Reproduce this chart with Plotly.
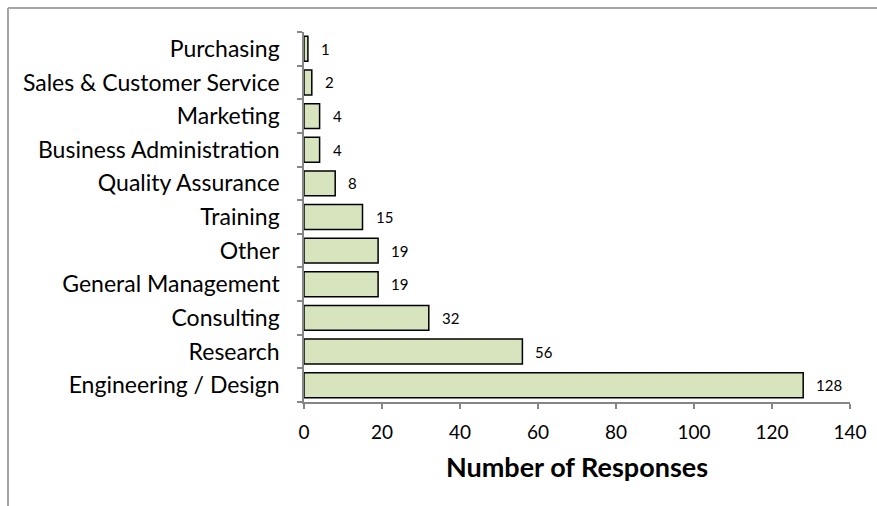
import plotly.graph_objects as go

# Survey responses by job function
categories = [
    "Engineering / Design", "Research", "Consulting", "General Management",
    "Other", "Training", "Quality Assurance", "Business Administration",
    "Marketing", "Sales & Customer Service", "Purchasing",
]
responses = [128, 56, 32, 19, 19, 15, 8, 4, 4, 2, 1]
x_ticks = [0, 20, 40, 60, 80, 100, 120, 140]

W, H = 877, 506
ML, MR, MT, MB = 304, 27, 32, 104
FONT = "Lato"
AXIS_GRAY = "#868686"

fig = go.Figure(
    go.Bar(
        x=responses,
        y=categories,
        orientation="h",
        marker=dict(color="#d7e4bd", line=dict(color="black", width=1.5)),
        hoverinfo="skip",
    )
)

# value labels to the right of each bar
for cat, val in zip(categories, responses):
    fig.add_annotation(
        x=val, y=cat, text=str(val), showarrow=False,
        xanchor="left", xshift=11, font=dict(family=FONT, size=15, color="black"),
    )

# outer frame (left and top edges)
pw, ph = W - ML - MR, H - MT - MB
def px_x(p):
    return (p - ML) / pw
def px_y(p):
    return (H - MB - p) / ph

frame = dict(color="#a6a6a6", width=2)
fig.add_shape(type="line", xref="paper", yref="paper",
              x0=px_x(8), x1=px_x(W + 5), y0=px_y(8), y1=px_y(8), line=frame)
fig.add_shape(type="line", xref="paper", yref="paper",
              x0=px_x(8), x1=px_x(8), y0=px_y(8), y1=px_y(H + 5), line=frame)

fig.update_layout(
    width=W, height=H,
    margin=dict(l=ML, r=MR, t=MT, b=MB, autoexpand=False),
    paper_bgcolor="white", plot_bgcolor="white",
    bargap=0.26,
    showlegend=False,
    font=dict(family=FONT, color="black"),
    xaxis=dict(
        range=[0, 140], tickvals=x_ticks, showgrid=False, zeroline=False,
        automargin=False,
        showline=True, linecolor=AXIS_GRAY, linewidth=1.5,
        ticks="outside", ticklen=5, tickcolor=AXIS_GRAY, tickwidth=1.5,
        tickfont=dict(family=FONT, size=19), ticklabelstandoff=7,
        title=dict(text="<b>Number of Responses</b>", font=dict(family=FONT, size=27), standoff=17),
    ),
    yaxis=dict(
        categoryorder="array", categoryarray=categories,
        showgrid=False, zeroline=False, automargin=False,
        showline=True, linecolor=AXIS_GRAY, linewidth=1.5,
        ticks="outside", ticklen=5, tickcolor=AXIS_GRAY, tickwidth=1.5,
        tickson="boundaries",
        tickfont=dict(family=FONT, size=23), ticklabelstandoff=18,
    ),
)

fig.write_html("out.html")
